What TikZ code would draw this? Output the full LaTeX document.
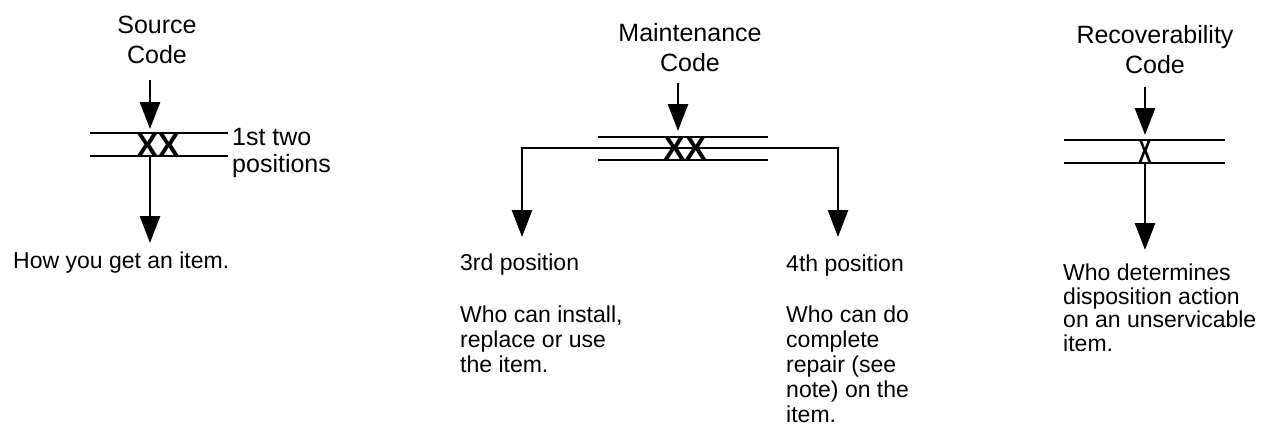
\documentclass[tikz,border=0pt]{standalone}
\usepackage{graphicx}
\usepackage{fontspec}
\setmainfont{Liberation Sans}
\usetikzlibrary{arrows.meta}
\usetikzlibrary{positioning}
\tikzset{>={Triangle[width=20pt,length=27pt]}}
\tikzstyle{bar} = [-, line width=2.8pt]
\tikzstyle{arr} = [->, line width=2.8pt]
\tikzstyle{title} = [draw=none, inner sep=0, align=center, font=\fontsize{25}{30}\selectfont]
\tikzstyle{txt} = [draw=none, inner sep=0, align=left, anchor=north west, font=\fontsize{23}{25}\selectfont]
\tikzstyle{xx} = [draw=none, inner sep=0, font=\fontsize{32}{32}\selectfont\bfseries]

\begin{document}
\begin{tikzpicture}[x=1pt, y=-1pt]
\useasboundingbox (0,0) rectangle (1268,444);
% source code
\node [title] (srcT) at (157,40) {Source\\Code};
\coordinate (srcIn) at (150,80);
\coordinate (srcInTip) at (150,129);
\coordinate (srcL1) at (90,133);
\coordinate (srcR1) at (228,133);
\coordinate (srcL2) at (90,156);
\coordinate (srcR2) at (228,156);
\coordinate (srcDn) at (150,156);
\coordinate (srcOut) at (150,243);
\draw [bar] (srcL1) -- (srcR1);
\draw [bar] (srcL2) -- (srcR2);
\node [xx] (srcX) at (158,145) {XX};
\draw [arr] (srcIn) -- (srcInTip);
\draw [arr] (srcDn) -- (srcOut);
\node [txt, anchor=west, font=\fontsize{25}{27}\selectfont] (srcPos) at (232,153) {1st two\\positions};
\node [txt, anchor=west] (srcD) at (13,263) {How you get an item.};
% maintenance code
\node [title] (mntT) at (690,48) {Maintenance\\Code};
\coordinate (mntIn) at (678,83);
\coordinate (mntInTip) at (678,131);
\coordinate (mntL1) at (598,137);
\coordinate (mntR1) at (768,137);
\coordinate (mntL2) at (598,160);
\coordinate (mntR2) at (768,160);
\coordinate (mntMid) at (680,148);
\coordinate (mnt3) at (522,237);
\coordinate (mnt4) at (838,237);
\draw [bar] (mntL1) -- (mntR1);
\draw [bar] (mntL2) -- (mntR2);
\draw [arr] (mntMid) -| (mnt3);
\draw [arr] (mntMid) -| (mnt4);
\node [xx] (mntX) at (685,148) {XX};
\draw [arr] (mntIn) -- (mntInTip);
\node [txt, anchor=west] (mnt3T) at (460,265) {3rd position};
\node [txt, below=30pt of mnt3T.south west, anchor=north west] (mnt3D) {Who can install,\\replace or use\\the item.};
\node [txt, anchor=west] (mnt4T) at (786,266) {4th position};
\node [txt, below=29pt of mnt4T.south west, anchor=north west] (mnt4D) {Who can do\\complete\\repair (see\\note) on the\\item.};
% recoverability code
\node [title] (recT) at (1155,50) {Recoverability\\Code};
\coordinate (recIn) at (1145,87);
\coordinate (recInTip) at (1145,135);
\coordinate (recL1) at (1064,140);
\coordinate (recR1) at (1225,140);
\coordinate (recL2) at (1064,163);
\coordinate (recR2) at (1225,163);
\coordinate (recDn) at (1145,163);
\coordinate (recOut) at (1145,250);
\draw [bar] (recL1) -- (recR1);
\draw [bar] (recL2) -- (recR2);
\node [xx] (recX) at (1145,151.5) {\scalebox{0.6}[1]{X}};
\draw [arr] (recIn) -- (recInTip);
\draw [arr] (recDn) -- (recOut);
\node [txt, font=\fontsize{23}{23.5}\selectfont] (recD) at (1063,264) {Who determines\\disposition action\\on an unservicable\\item.};
\end{tikzpicture}
\end{document}
